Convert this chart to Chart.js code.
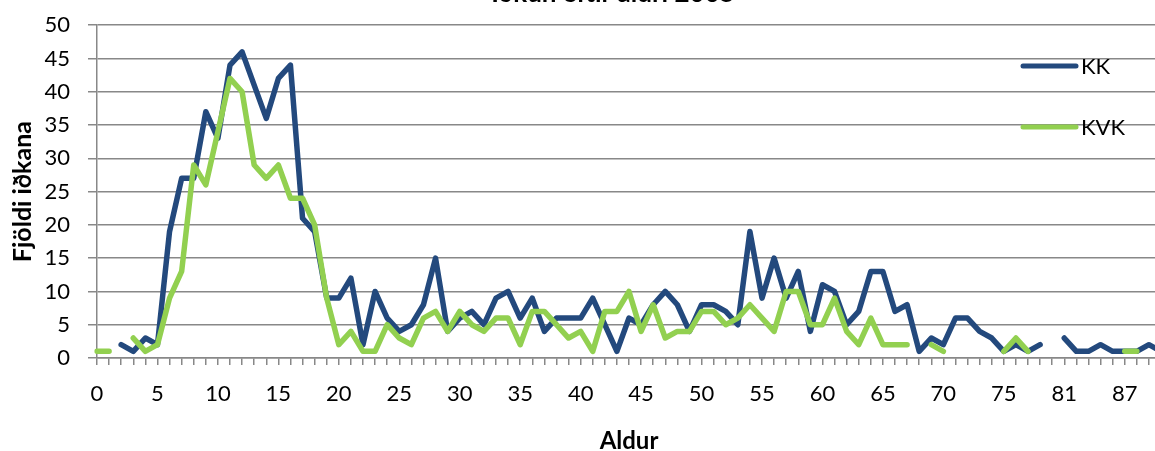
<!DOCTYPE html>
<html>
<head>
<meta charset="utf-8">
<script src="https://cdn.jsdelivr.net/npm/chart.js@4/dist/chart.umd.min.js"></script>
<style>
  html, body { margin: 0; padding: 0; background: #fff; overflow: hidden; }
  #wrap { width: 1155px; height: 451px; overflow: hidden; position: relative; }
  /* the original is a crop: title cut at the top, plot cut at the right */
  #chart { position: absolute; left: 0; top: -6px; }
</style>
</head>
<body>
<div id="wrap"><canvas id="chart" width="1177" height="457"></canvas></div>
<script>
/* ===================== DATA ===================== */
const ages = [
  0, 1, 2, 3, 4, 5, 6, 7, 8, 9, 10, 11, 12, 13, 14, 15, 16, 17, 18, 19,
  20, 21, 22, 23, 24, 25, 26, 27, 28, 29, 30, 31, 32, 33, 34, 35, 36, 37, 38, 39,
  40, 41, 42, 43, 44, 45, 46, 47, 48, 49, 50, 51, 52, 53, 54, 55, 56, 57, 58, 59,
  60, 61, 62, 63, 64, 65, 66, 67, 68, 69, 70, 71, 72, 73, 74, 75, 76, 77, 78, 79,
  81, 82, 83, 84, 85, 87, 88, 89, 90
];

const kk = [
  null, null, 2, 1, 3, 2, 19, 27, 27, 37, 33, 44, 46, 41, 36, 42, 44, 21, 19, 9,
  9, 12, 2, 10, 6, 4, 5, 8, 15, 4, 6, 7, 5, 9, 10, 6, 9, 4, 6, 6,
  6, 9, 5, 1, 6, 5, 8, 10, 8, 4, 8, 8, 7, 5, 19, 9, 15, 9, 13, 4,
  11, 10, 5, 7, 13, 13, 7, 8, 1, 3, 2, 6, 6, 4, 3, 1, 2, 1, 2, null,
  3, 1, 1, 2, 1, 1, 1, 2, 1
];

const kvk = [
  1, 1, null, 3, 1, 2, 9, 13, 29, 26, 34, 42, 40, 29, 27, 29, 24, 24, 20, 9,
  2, 4, 1, 1, 5, 3, 2, 6, 7, 4, 7, 5, 4, 6, 6, 2, 7, 7, 5, 3,
  4, 1, 7, 7, 10, 4, 8, 3, 4, 4, 7, 7, 5, 6, 8, 6, 4, 10, 10, 5,
  5, 9, 4, 2, 6, 2, 2, 2, null, 2, 1, null, null, null, null, 1, 3, 1, null, null,
  null, null, null, null, null, 1, 1, null, null
];

const seriesNames = ["KK", "KVK"];
const seriesColors = ["#23497d", "#92d050"];
const yTicks = [0, 5, 10, 15, 20, 25, 30, 35, 40, 45, 50];

const chartTitle = "Iðkun eftir aldri 2005";
const xTitle = "Aldur";
const yTitle = "Fjöldi iðkana";

const FONT = "Lato";
const GRID = "#888888";
const SHIFT = 6; // canvas is moved up by this much

/* ========== Title (cropped at top, like the original) ========== */
const titlePlugin = {
  id: "cropTitle",
  afterDraw(chart) {
    const c = chart.ctx;
    c.save();
    c.font = `bold 26px ${FONT}`;
    c.fillStyle = "#000";
    c.textAlign = "center";
    c.textBaseline = "alphabetic";
    c.fillText(chartTitle, 613, 2 + SHIFT);
    c.restore();
  }
};

/* ========== Legend inside the plot area ========== */
const legendPlugin = {
  id: "innerLegend",
  afterDraw(chart) {
    const c = chart.ctx;
    const rows = [66, 127];
    chart.data.datasets.forEach((ds, i) => {
      const y = rows[i] + SHIFT;
      c.save();
      c.strokeStyle = ds.borderColor;
      c.lineWidth = 5;
      c.lineCap = "round";
      c.beginPath();
      c.moveTo(1023, y);
      c.lineTo(1076, y);
      c.stroke();
      c.font = `22px ${FONT}`;
      c.fillStyle = "#000";
      c.textAlign = "left";
      c.textBaseline = "middle";
      c.fillText(ds.label, 1081, y + 1);
      c.restore();
    });
  }
};

const ctx = document.getElementById("chart").getContext("2d");
new Chart(ctx, {
  type: "line",
  data: {
    labels: ages.map(String),
    datasets: [
      {
        label: seriesNames[0],
        data: kk,
        borderColor: seriesColors[0],
        backgroundColor: seriesColors[0],
        borderWidth: 5.5,
        pointRadius: 0,
        tension: 0,
        spanGaps: false,
        borderJoinStyle: "round",
        borderCapStyle: "round",
        order: 1
      },
      {
        label: seriesNames[1],
        data: kvk,
        borderColor: seriesColors[1],
        backgroundColor: seriesColors[1],
        borderWidth: 5.5,
        pointRadius: 0,
        tension: 0,
        spanGaps: false,
        borderJoinStyle: "round",
        borderCapStyle: "round",
        order: 0
      }
    ]
  },
  options: {
    responsive: false,
    animation: false,
    devicePixelRatio: 1,
    layout: { padding: { left: 10, top: 25, right: 0, bottom: 0 } },
    plugins: {
      legend: { display: false },
      tooltip: { enabled: false },
      title: { display: false }
    },
    scales: {
      x: {
        offset: false,
        grid: { drawOnChartArea: false, drawTicks: true, tickLength: 7, color: GRID, lineWidth: 1.5 },
        border: { color: GRID, width: 1.5 },
        ticks: {
          autoSkip: false,
          maxRotation: 0,
          minRotation: 0,
          padding: 16,
          color: "#000",
          font: { family: FONT, size: 22 },
          callback: (v, i) => (i % 5 === 0 ? ages[i] : "")
        },
        title: {
          display: true,
          text: xTitle,
          color: "#000",
          font: { family: FONT, size: 24, weight: "bold", lineHeight: 1 },
          padding: { top: 0, bottom: -2 }
        },
        afterFit: s => { s.height = 93; }
      },
      y: {
        min: 0,
        max: 50,
        afterBuildTicks: s => { s.ticks = yTicks.map(v => ({ value: v })); },
        grid: { color: GRID, lineWidth: 1.5, drawTicks: true, tickLength: 9 },
        border: { color: GRID, width: 1.5 },
        ticks: {
          padding: 18,
          color: "#000",
          font: { family: FONT, size: 22 }
        },
        title: {
          display: true,
          text: yTitle,
          color: "#000",
          font: { family: FONT, size: 25, weight: "bold", lineHeight: 1 },
          padding: { top: 0, bottom: 0 }
        },
        afterFit: s => { s.width = 87; }
      }
    }
  },
  plugins: [titlePlugin, legendPlugin]
});
</script>
</body>
</html>
